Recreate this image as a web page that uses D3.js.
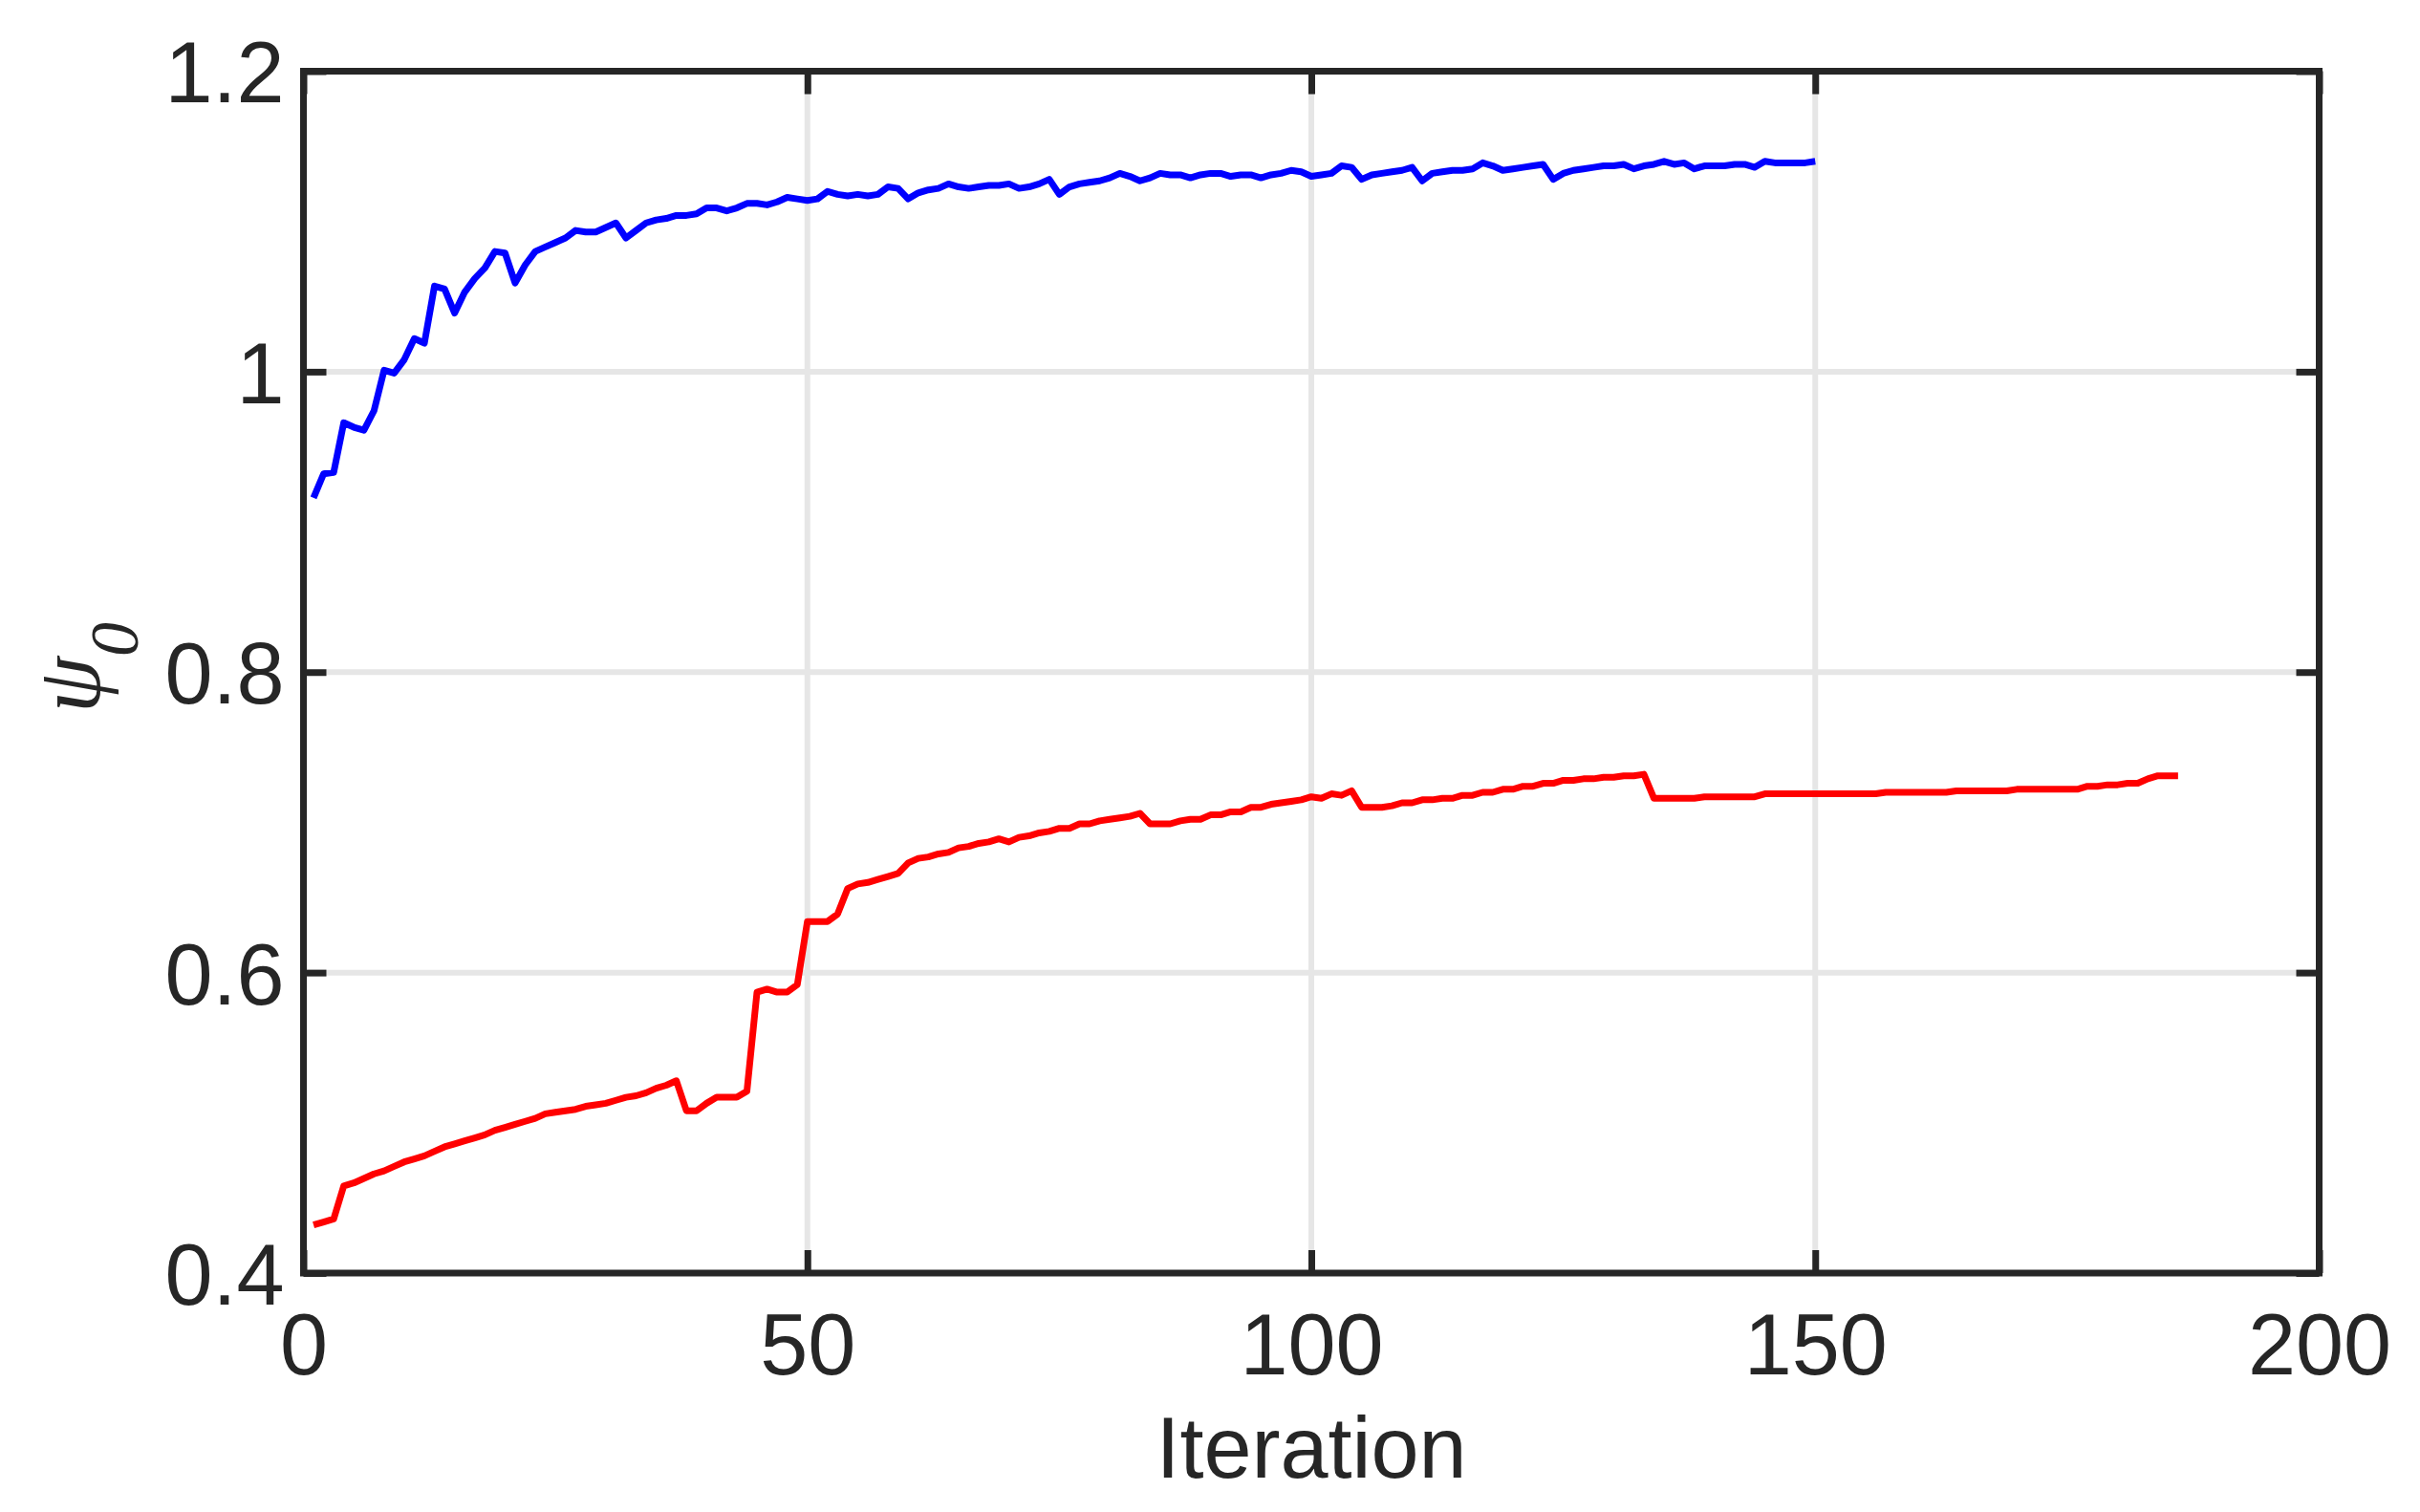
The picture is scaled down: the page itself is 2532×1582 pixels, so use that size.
<!DOCTYPE html>
<html>
<head>
<meta charset="utf-8">
<script src="https://cdn.jsdelivr.net/npm/d3@7"></script>
<style>
  body { margin: 0; background: #fff; }
  svg { display: block; }
  text { font-family: "Liberation Sans", Arial, Helvetica, sans-serif; fill: #262626; }
</style>
</head>
<body>
<svg id="chart" width="2532" height="1582"></svg>
<script>
// psi_0 per iteration (first value is iteration 1)
const blueValues = [
  0.916, 0.932, 0.933, 0.966, 0.963, 0.961, 0.974, 1.001, 0.999, 1.008,
  1.022, 1.019, 1.057, 1.055, 1.039, 1.053, 1.062, 1.069, 1.080, 1.079,
  1.059, 1.071, 1.080, 1.083, 1.086, 1.089, 1.094, 1.093, 1.093, 1.096,
  1.099, 1.089, 1.094, 1.099, 1.101, 1.102, 1.104, 1.104, 1.105, 1.109,
  1.109, 1.107, 1.109, 1.112, 1.112, 1.111, 1.113, 1.116, 1.115, 1.114,
  1.115, 1.120, 1.118, 1.117, 1.118, 1.117, 1.118, 1.123, 1.122, 1.115,
  1.119, 1.121, 1.122, 1.125, 1.123, 1.122, 1.123, 1.124, 1.124, 1.125,
  1.122, 1.123, 1.125, 1.128, 1.118, 1.123, 1.125, 1.126, 1.127, 1.129,
  1.132, 1.130, 1.127, 1.129, 1.132, 1.131, 1.131, 1.129, 1.131, 1.132,
  1.132, 1.130, 1.131, 1.131, 1.129, 1.131, 1.132, 1.134, 1.133, 1.130,
  1.131, 1.132, 1.137, 1.136, 1.128, 1.131, 1.132, 1.133, 1.134, 1.136,
  1.127, 1.132, 1.133, 1.134, 1.134, 1.135, 1.139, 1.137, 1.134, 1.135,
  1.136, 1.137, 1.138, 1.128, 1.132, 1.134, 1.135, 1.136, 1.137, 1.137,
  1.138, 1.135, 1.137, 1.138, 1.140, 1.138, 1.139, 1.135, 1.137, 1.137,
  1.137, 1.138, 1.138, 1.136, 1.140, 1.139, 1.139, 1.139, 1.139, 1.140
];

const redValues = [
  0.432, 0.434, 0.436, 0.458, 0.460, 0.463, 0.466, 0.468, 0.471, 0.474,
  0.476, 0.478, 0.481, 0.484, 0.486, 0.488, 0.490, 0.492, 0.495, 0.497,
  0.499, 0.501, 0.503, 0.506, 0.507, 0.508, 0.509, 0.511, 0.512, 0.513,
  0.515, 0.517, 0.518, 0.520, 0.523, 0.525, 0.528, 0.508, 0.508, 0.513,
  0.517, 0.517, 0.517, 0.521, 0.587, 0.589, 0.587, 0.587, 0.592, 0.634,
  0.634, 0.634, 0.639, 0.656, 0.659, 0.660, 0.662, 0.664, 0.666, 0.673,
  0.676, 0.677, 0.679, 0.680, 0.683, 0.684, 0.686, 0.687, 0.689, 0.687,
  0.690, 0.691, 0.693, 0.694, 0.696, 0.696, 0.699, 0.699, 0.701, 0.702,
  0.703, 0.704, 0.706, 0.699, 0.699, 0.699, 0.701, 0.702, 0.702, 0.705,
  0.705, 0.707, 0.707, 0.710, 0.710, 0.712, 0.713, 0.714, 0.715, 0.717,
  0.716, 0.719, 0.718, 0.721, 0.710, 0.710, 0.710, 0.711, 0.713, 0.713,
  0.715, 0.715, 0.716, 0.716, 0.718, 0.718, 0.720, 0.720, 0.722, 0.722,
  0.724, 0.724, 0.726, 0.726, 0.728, 0.728, 0.729, 0.729, 0.730, 0.730,
  0.731, 0.731, 0.732, 0.716, 0.716, 0.716, 0.716, 0.716, 0.717, 0.717,
  0.717, 0.717, 0.717, 0.717, 0.719, 0.719, 0.719, 0.719, 0.719, 0.719,
  0.719, 0.719, 0.719, 0.719, 0.719, 0.719, 0.720, 0.720, 0.720, 0.720,
  0.720, 0.720, 0.720, 0.721, 0.721, 0.721, 0.721, 0.721, 0.721, 0.722,
  0.722, 0.722, 0.722, 0.722, 0.722, 0.722, 0.724, 0.724, 0.725, 0.725,
  0.726, 0.726, 0.729, 0.731, 0.731, 0.731
];

const xTicks = [0, 50, 100, 150, 200];
const yTicks = [0.4, 0.6, 0.8, 1.0, 1.2];
const xLabel = "Iteration";

const svg = d3.select("#chart");
const margin = { left: 317.5, right: 2532 - 2426.5, top: 74.5, bottom: 1582 - 1332 };
const width = 2532 - margin.left - margin.right;
const height = 1582 - margin.top - margin.bottom;
const axisColor = "#262626";
const gridColor = "#e6e6e6";
const tickLen = 24;

const x = d3.scaleLinear().domain([0, 200]).range([0, width]);
const y = d3.scaleLinear().domain([0.4, 1.2]).range([height, 0]);

const g = svg.append("g").attr("transform", `translate(${margin.left},${margin.top})`);

// grid
const grid = g.append("g");
grid.selectAll(".gx").data(xTicks.slice(1, -1)).join("line")
    .attr("x1", d => x(d)).attr("x2", d => x(d))
    .attr("y1", 0).attr("y2", height)
    .attr("stroke", gridColor).attr("stroke-width", 6);
grid.selectAll(".gy").data(yTicks.slice(1, -1)).join("line")
    .attr("x1", 0).attr("x2", width)
    .attr("y1", d => y(d)).attr("y2", d => y(d))
    .attr("stroke", gridColor).attr("stroke-width", 6);

// data lines
const line = d3.line()
    .x((d, i) => x(i + 1))
    .y(d => y(d));

g.append("path").datum(blueValues)
    .attr("fill", "none").attr("stroke", "#0000ff")
    .attr("stroke-width", 7).attr("stroke-linejoin", "round")
    .attr("d", line);

g.append("path").datum(redValues)
    .attr("fill", "none").attr("stroke", "#ff0000")
    .attr("stroke-width", 7).attr("stroke-linejoin", "round")
    .attr("d", line);

// axes, ticks pointing inward on all four sides
const xAxis = (gg, flip) => {
    gg.call(d3.axisBottom(x).tickValues(xTicks).tickSize(flip ? tickLen : -tickLen).tickSizeOuter(0)
        .tickFormat(flip ? "" : d3.format("d")));
};
const yAxis = (gg, flip) => {
    gg.call(d3.axisLeft(y).tickValues(yTicks).tickSize(flip ? tickLen : -tickLen).tickSizeOuter(0)
        .tickFormat(flip ? "" : d => d3.format("")(+d.toFixed(1))));
};

const gxb = g.append("g").attr("transform", `translate(0,${height})`).call(xAxis, false);
const gxt = g.append("g").call(xAxis, true);
const gyl = g.append("g").call(yAxis, false);
const gyr = g.append("g").attr("transform", `translate(${width},0)`).call(yAxis, true);

[gxb, gxt, gyl, gyr].forEach(a => {
    a.select(".domain").remove();
    a.selectAll(".tick line").attr("stroke", axisColor).attr("stroke-width", 7);
});

gxb.selectAll(".tick text")
    .attr("y", 42).attr("dy", "0.71em")
    .style("font-size", "90px").attr("fill", axisColor);
gyl.selectAll(".tick text")
    .attr("x", -20).attr("dy", "0.36em")
    .style("font-size", "90px").attr("fill", axisColor);

// box
g.append("rect")
    .attr("x", 0).attr("y", 0).attr("width", width).attr("height", height)
    .attr("fill", "none").attr("stroke", axisColor).attr("stroke-width", 7);

// labels
svg.append("text")
    .attr("x", margin.left + width / 2).attr("y", 1546)
    .attr("text-anchor", "middle")
    .style("font-size", "90px")
    .text(xLabel);

const yl = svg.append("text")
    .attr("transform", "translate(104,746) rotate(-90)")
    .style("font-family", "'Liberation Serif', 'DejaVu Serif', serif")
    .style("font-style", "italic");
yl.append("tspan").style("font-size", "95px").text("ψ");
yl.append("tspan").style("font-size", "72px").attr("dy", 40).text("0");
</script>
</body>
</html>
